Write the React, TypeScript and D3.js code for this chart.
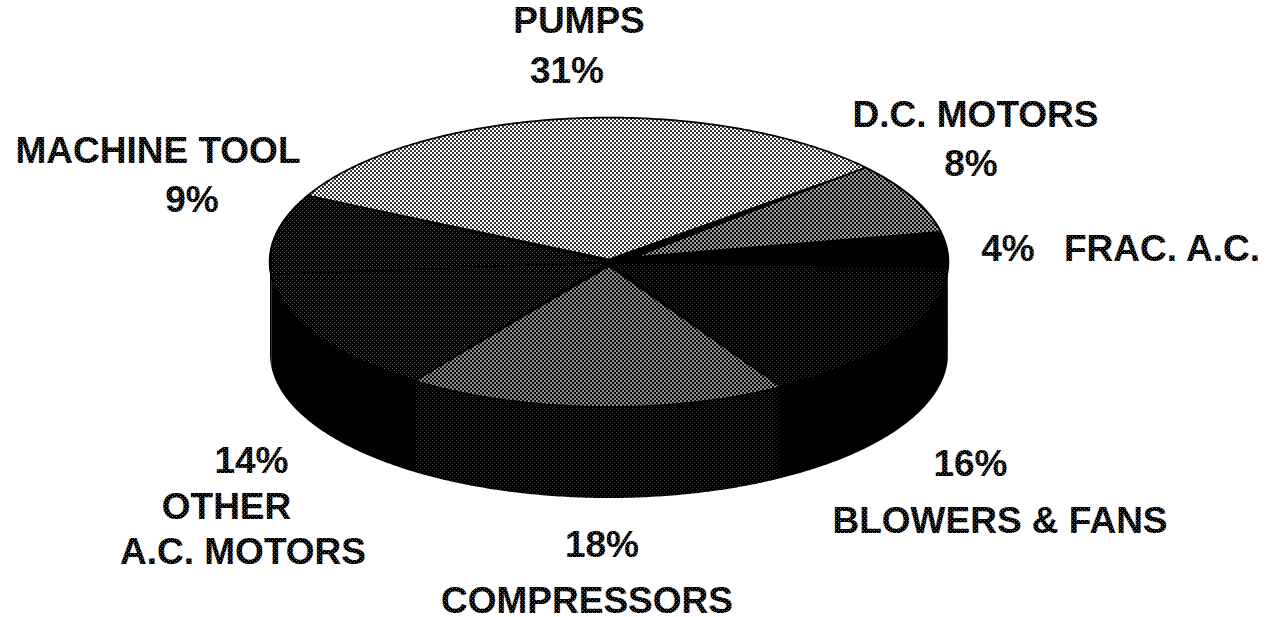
import React from "react";
import * as d3 from "d3";

const categories = ["PUMPS", "D.C. MOTORS", "FRAC. A.C.", "BLOWERS & FANS", "COMPRESSORS", "OTHER A.C. MOTORS", "MACHINE TOOL"];
const shares = [31, 8, 4, 16, 18, 14, 9];
const topFills = ["url(#pLight)", "url(#pMid)", "#000", "url(#pDark2)", "url(#pMid2)", "url(#pDark)", "url(#pDark)"];
const sideFills = ["#000", "#000", "#000", "#000", "url(#pSide)", "#000", "#000"];
const apexShift: [number, number][] = [[0, -3], [26, -5], [0, 0], [0, 0], [0, 5], [0, 0], [0, 0]];

const labelRows = [
  { text: "PUMPS", x: 579, y: 33 },
  { text: "31%", x: 567, y: 83 },
  { text: "D.C. MOTORS", x: 975.5, y: 127 },
  { text: "8%", x: 971, y: 176 },
  { text: "MACHINE TOOL", x: 158, y: 163 },
  { text: "9%", x: 192, y: 212 },
  { text: "4%", x: 1008, y: 261 },
  { text: "FRAC. A.C.", x: 1162, y: 261 },
  { text: "14%", x: 251.5, y: 473 },
  { text: "OTHER", x: 226.5, y: 519 },
  { text: "A.C. MOTORS", x: 243, y: 564 },
  { text: "18%", x: 602, y: 557 },
  { text: "COMPRESSORS", x: 587, y: 612.5 },
  { text: "16%", x: 970.5, y: 476 },
  { text: "BLOWERS & FANS", x: 1000, y: 533 },
];

const cx = 609, cy = 262, rx = 339, ry = 144, depth = 92;
const startDeg = -62.5;

function pt(a: number, dy = 0): [number, number] {
  return [cx + rx * Math.sin(a), cy - ry * Math.cos(a) + dy];
}
function arcPts(a0: number, a1: number, dy = 0) {
  const n = Math.max(2, Math.ceil(Math.abs(a1 - a0) / 0.01));
  return d3.range(n + 1).map((i) => pt(a0 + ((a1 - a0) * i) / n, dy));
}
const line = d3.line();

function Dots({ id, bg, dot, size, opacity }: { id: string; bg: string; dot: string; size: number; opacity: number }) {
  return (
    <pattern id={id} width={4} height={4} patternUnits="userSpaceOnUse">
      <rect width={4} height={4} fill={bg} />
      <rect x={0} y={0} width={size} height={size} fill={dot} opacity={opacity} />
      <rect x={2} y={2} width={size} height={size} fill={dot} opacity={opacity} />
    </pattern>
  );
}

export default function App() {
  const pie = d3.pie<number>().sort(null)
    .startAngle((startDeg * Math.PI) / 180)
    .endAngle(((startDeg + 360) * Math.PI) / 180);
  const arcs = pie(shares);
  const lo = Math.PI / 2, hi = (3 * Math.PI) / 2;
  return (
    <svg width={1268} height={617} style={{ position: "absolute", left: 0, top: 0, background: "#fff" }}>
      <defs>
        <Dots id="pLight" bg="#fff" dot="#111" size={2} opacity={0.85} />
        <Dots id="pMid" bg="#0a0a0a" dot="#fff" size={2} opacity={0.62} />
        <Dots id="pMid2" bg="#0a0a0a" dot="#fff" size={2} opacity={0.55} />
        <Dots id="pDark" bg="#000" dot="#fff" size={1} opacity={0.4} />
        <Dots id="pDark2" bg="#000" dot="#fff" size={1} opacity={0.22} />
        <Dots id="pSide" bg="#000" dot="#fff" size={1} opacity={0.2} />
        <Dots id="pText" bg="#000" dot="#777" size={1} opacity={1} />
      </defs>
      <g>
        {arcs.map((a, i) => {
          const s = a.startAngle, e = a.endAngle;
          const norm = (v: number) => (v < 0 ? v + 2 * Math.PI : v);
          const ns = norm(s), ne = ns + (e - s);
          const from = Math.max(ns, lo), to = Math.min(ne, hi);
          if (to <= from) return null;
          const top = arcPts(from, to, 0), bot = arcPts(to, from, depth);
          return <path key={categories[i]} d={line([...top, ...bot])! + "Z"} fill={sideFills[i]} stroke="none" />;
        })}
        <path d={line(arcPts(0, 2 * Math.PI))! + "Z"} fill="#000" stroke="#000" strokeWidth={2.5} />
        {arcs.map((a, i) => {
          const apex: [number, number] = [cx + apexShift[i][0], cy + apexShift[i][1]];
          return (
            <path
              key={categories[i]}
              d={line([apex, ...arcPts(a.startAngle, a.endAngle)])! + "Z"}
              fill={topFills[i]}
              stroke={i === 4 ? "none" : "#000"}
              strokeWidth={i === 0 ? 1 : 1.5}
            />
          );
        })}
      </g>
      <g fontFamily="'Liberation Sans', Arial, sans-serif" fontWeight={700} fontSize={37} fill="url(#pText)">
        {labelRows.map((l) => (
          <text key={l.text + l.x} x={l.x} y={l.y} textAnchor="middle">{l.text}</text>
        ))}
      </g>
    </svg>
  );
}
